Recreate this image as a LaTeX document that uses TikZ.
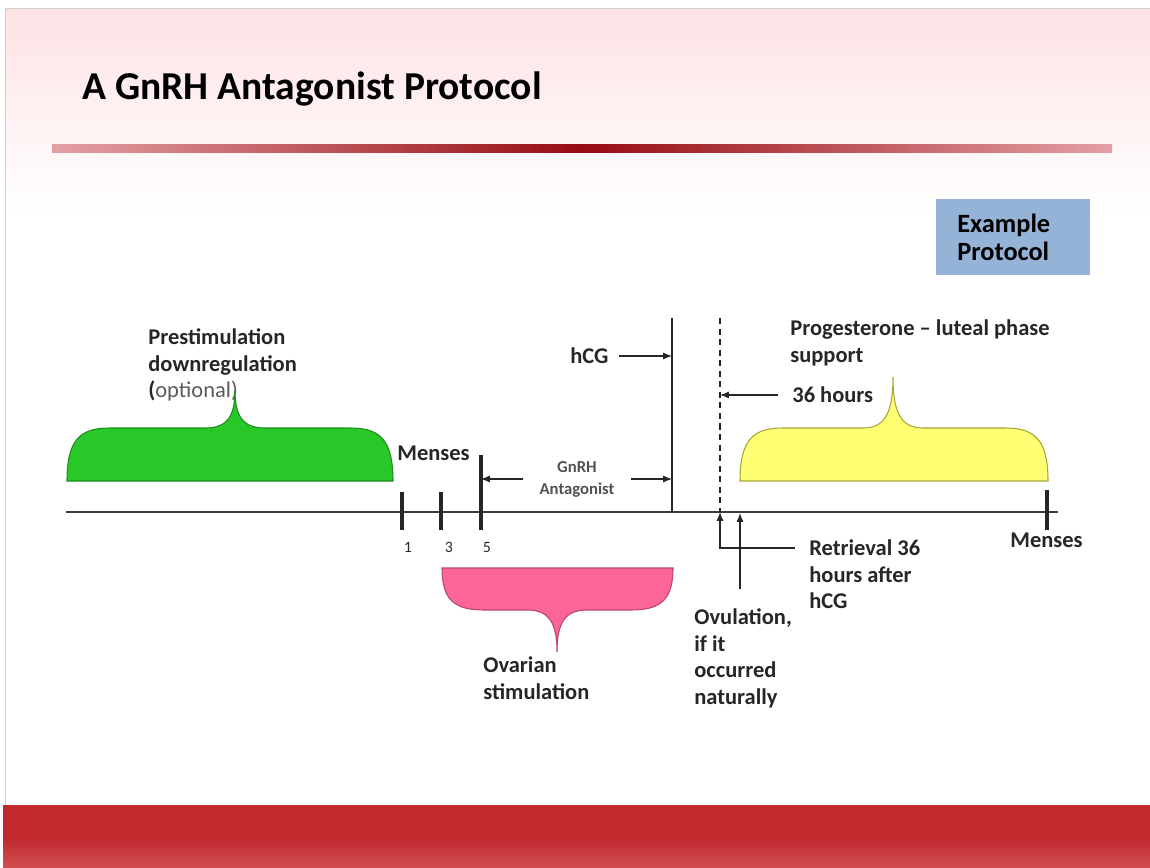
\documentclass[tikz,border=0pt]{standalone}
\usepackage{fontspec}
\setmainfont{Carlito}
\usetikzlibrary{arrows.meta,positioning}

\definecolor{slidepink}{RGB}{253,226,228}
\definecolor{rulepale}{RGB}{228,160,165}
\definecolor{rulered}{RGB}{150,12,18}
\definecolor{footred}{RGB}{192,41,46}
\definecolor{footlight}{RGB}{208,78,80}
\definecolor{boxblue}{RGB}{149,179,215}
\definecolor{txtdark}{RGB}{38,38,38}
\definecolor{optgray}{RGB}{90,90,90}
\definecolor{bracegreen}{RGB}{40,200,40}
\definecolor{edgegreen}{RGB}{30,140,30}
\definecolor{braceyellow}{RGB}{255,255,115}
\definecolor{edgeyellow}{RGB}{165,165,60}
\definecolor{bracepink}{RGB}{252,102,150}
\definecolor{edgepink}{RGB}{185,70,110}

% curly brace: style, left, right, base, top, peak x, peak y
\newcommand{\phasebrace}[7]{%
  \filldraw[#1] (#2,#4)
    .. controls (#2,{#5+(#4-#5)*0.25}) and (#2+12,#5) .. (#2+42,#5)
    -- (#6-30,#5)
    .. controls (#6-8,#5) and (#6,{#5+(#7-#5)*0.3}) .. (#6,#7)
    .. controls (#6,{#5+(#7-#5)*0.3}) and (#6+8,#5) .. (#6+30,#5)
    -- (#3-42,#5)
    .. controls (#3-12,#5) and (#3,{#5+(#4-#5)*0.25}) .. (#3,#4)
    -- cycle;}

\begin{document}
\begin{tikzpicture}[x=0.02cm, y=-0.02cm,
  lbl/.style={font=\fontsize{12.8}{15.3}\selectfont\bfseries, text=txtdark,
    inner sep=0pt, align=left},
  arr/.style={-{Latex[length=5pt,width=4pt]}, line width=0.7pt, txtdark},
  tick/.style={line width=1.9pt, txtdark},
  daynum/.style={font=\fontsize{9}{10}\selectfont, text=txtdark, inner sep=0pt},
]
\useasboundingbox (0,0) rectangle (1150,867);

% slide background
\shade[top color=slidepink, bottom color=white] (5,8) rectangle (1150,215);
\draw[gray!35] (5,805) -- (5,8) -- (1150,8);
\shade[left color=rulepale, right color=rulepale, middle color=rulered]
  (52,144) rectangle (1112,152);
\fill[footred] (3,805) rectangle (1150,867);
\shade[top color=footred, bottom color=footlight] (3,838) rectangle (1150,867);

\node[font=\fontsize{22.5}{27}\selectfont\bfseries, anchor=west, inner sep=0pt]
  (title) at (82,89) {A GnRH Antagonist Protocol};

\node[fill=boxblue, anchor=north west, minimum height=1.52cm, inner xsep=0.42cm,
  text width=2.24cm, align=left, font=\fontsize{15}{16.5}\selectfont\bfseries]
  (example) at (936,199) {Example\\Protocol};

% timeline
\draw[line width=0.9pt, txtdark!90] (66,512) -- (1058,512);
\draw[tick] (402,492) -- (402,530);
\draw[tick] (441,492) -- (441,530);
\draw[tick] (481,455) coordinate (t5top) -- (481,530);
\draw[tick] (1047,490) -- (1047,530);
\draw[line width=1.4pt, txtdark] (672,318) coordinate (hcgtop) -- (672,512) coordinate (hcgbot);
\draw[line width=1.2pt, txtdark, dash pattern=on 3.5pt off 2.5pt]
  (720,318) coordinate (dtop) -- (720,512) coordinate (dbot);

\node[daynum] (d1) at (408,547) {1};
\node[daynum] (d3) at (449,547) {3};
\node[daynum] (d5) at (487,547) {5};

% labels
\node[lbl, anchor=north west] (prestim) at (148,328)
  {Prestimulation\\downregulation\\(\textmd{\color{optgray}optional)}};
\node[lbl, anchor=west] (menses1) at (397,453) {Menses};
\node[lbl, anchor=west] (hcg) at (570,356) {hCG};
\node[lbl, font=\fontsize{9.5}{12.5}\selectfont\bfseries, text=txtdark!80, align=center]
  (gnrh) at (577,479) {GnRH\\Antagonist};
\node[lbl, anchor=north west] (prog) at (790,319)
  {Progesterone – luteal phase\\support};
\node[lbl, anchor=west] (hrs) at (792,395) {36 hours};
\node[lbl, anchor=west] (menses2) at (1010,540) {Menses};
\node[lbl, anchor=north west] (ret) at (809,539) {Retrieval 36\\hours after\\hCG};
\node[lbl, anchor=north west] (ovul) at (694,608)
  {Ovulation,\\if it\\occurred\\naturally};
\node[lbl, anchor=north west] (ovar) at (483,656) {Ovarian\\stimulation};

% phase braces
\phasebrace{fill=bracegreen, draw=edgegreen, line width=0.6pt}{67}{393}{481}{428}{235}{390}
\phasebrace{fill=braceyellow, draw=edgeyellow, line width=0.6pt}{740}{1048}{481}{428}{893}{377}
\phasebrace{fill=bracepink, draw=edgepink, line width=0.6pt}{442}{673}{568}{610}{557}{652}

% arrows
\draw[arr, shorten <=6pt] (hcg.east) -- (hcg.east -| hcgtop);
\draw[arr, shorten <=9pt] (gnrh.west) -- (gnrh.west -| t5top);
\draw[arr, shorten <=9pt] (gnrh.east) -- (gnrh.east -| hcgtop);
\draw[arr, shorten <=8pt] (hrs.west) -- (hrs.west -| dtop);
\coordinate (retstart) at (795,548);
\coordinate (ovpt) at (740,513);
\draw[arr] (retstart) -| (dbot);
\draw[arr, shorten <=11pt] (ovpt |- ovul.north) -- (ovpt);
\end{tikzpicture}
\end{document}
